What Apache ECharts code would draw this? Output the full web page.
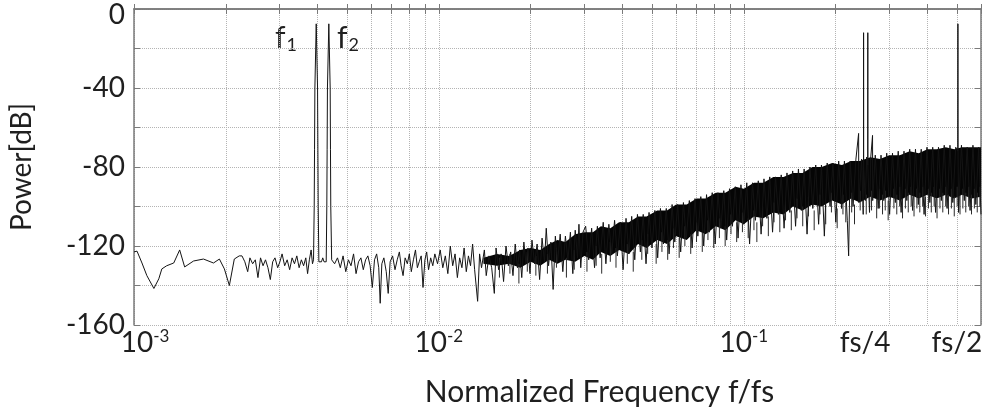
<!DOCTYPE html>
<html>
<head>
<meta charset="utf-8">
<script src="https://cdn.jsdelivr.net/npm/echarts@6/dist/echarts.min.js"></script>
<style>
html, body { margin: 0; padding: 0; background: #fff; }
#chart { width: 987px; height: 412px; }
</style>
</head>
<body>
<div id="chart"></div>
<script>
// spectrum: [normalized frequency, power dB]
const traceLow = [
  [0.001, -123], [0.001023, -122.6], [0.001062, -128.6], [0.001102, -135], [0.001162, -141.5],
  [0.001206, -136.6], [0.001234, -131.6], [0.00128, -130], [0.00135, -128.6], [0.001412, -122],
  [0.001466, -130.6], [0.001568, -127.6], [0.00169, -126.6], [0.001823, -128.6], [0.001906, -126.6],
  [0.001979, -131.6], [0.002055, -140], [0.002133, -126.6], [0.002214, -125],
  [0.00226, -125], [0.00231, -128], [0.00236, -133], [0.0024, -126], [0.00245, -129],
  [0.0025, -127], [0.00255, -136], [0.0026, -126], [0.00265, -130], [0.0027, -127],
  [0.00275, -131], [0.0028, -137], [0.00285, -128], [0.0029, -126], [0.00296, -131],
  [0.00301, -128], [0.00306, -124], [0.00312, -130], [0.00318, -127], [0.00324, -132],
  [0.0033, -126], [0.00336, -129], [0.00342, -125], [0.00348, -131], [0.00354, -127],
  [0.0036, -130], [0.00366, -126], [0.00371, -134], [0.00376, -127], [0.00381, -122],
  [0.00385, -129]
];

// the two test tones f1, f2
const traceTones = [
  [0.00388, -127], [0.0039, -100], [0.00391, -71], [0.00392, -40], [0.00396, -7.5],
  [0.004, -40], [0.00401, -71], [0.00402, -100], [0.00404, -128],
  [0.00408, -127], [0.00412, -128], [0.00416, -126], [0.0042, -128], [0.00424, -127],
  [0.00427, -128], [0.00429, -100], [0.0043, -71], [0.00431, -40], [0.004355, -7.5],
  [0.0044, -40], [0.00441, -71], [0.00442, -100], [0.00445, -127]
];

const traceMid = [
  [0.00455, -129], [0.00465, -126], [0.00475, -131], [0.00485, -125], [0.00495, -133],
  [0.00505, -127], [0.00515, -130], [0.00525, -124], [0.00535, -134], [0.00545, -128],
  [0.00555, -126], [0.00565, -132], [0.00575, -127], [0.00585, -125], [0.00595, -130],
  [0.00605, -141], [0.00615, -127], [0.00625, -124], [0.00635, -131], [0.00642, -149],
  [0.0065, -129], [0.0066, -126], [0.00672, -133], [0.00682, -144], [0.00692, -128],
  [0.00705, -125], [0.00718, -132], [0.0073, -127], [0.00742, -123], [0.00752, -130],
  [0.00763, -135], [0.00775, -126], [0.00788, -129], [0.008, -124], [0.00812, -133],
  [0.00825, -127], [0.00838, -122], [0.0085, -131], [0.00862, -128], [0.00875, -125],
  [0.00887, -141], [0.009, -127], [0.00912, -123], [0.00925, -132], [0.0094, -126],
  [0.00955, -130], [0.0097, -124],
  [0.0099, -129], [0.0101, -122], [0.0103, -131], [0.0105, -125], [0.0107, -134],
  [0.0109, -120], [0.0111, -130], [0.0113, -124], [0.0115, -136], [0.0117, -126],
  [0.0119, -131], [0.0121, -121], [0.0123, -133], [0.0125, -125], [0.0127, -130],
  [0.0129, -119], [0.0131, -132], [0.0134, -148], [0.0136, -124], [0.0138, -131],
  [0.0141, -122], [0.0143, -135], [0.0146, -125], [0.0149, -131], [0.0152, -144],
  [0.0154, -121], [0.0157, -132], [0.016, -124], [0.0163, -138], [0.0166, -120],
  [0.0169, -130], [0.0172, -123], [0.0175, -135], [0.0178, -119], [0.0181, -131],
  [0.0184, -122], [0.0187, -136], [0.019, -118], [0.0193, -129], [0.0196, -121],
  [0.0199, -134], [0.0202, -117], [0.0206, -129], [0.021, -119], [0.0214, -137],
  [0.0218, -116], [0.0222, -128], [0.0225, -111], [0.0229, -130], [0.0233, -118],
  [0.0237, -142], [0.0241, -115], [0.0245, -128], [0.025, -114], [0.0255, -133],
  [0.026, -115], [0.0265, -127], [0.027, -113], [0.0275, -134], [0.028, -112],
  [0.0285, -126], [0.0288, -109], [0.0292, -131], [0.0297, -113]
];

// dense part, with the fs/4 tones and the fs/2 tone
const traceHigh = [
  [0.0303, -110], [0.031, -127], [0.0317, -111], [0.0324, -131], [0.0331, -110],
  [0.0338, -126], [0.0346, -108], [0.0353, -129], [0.0361, -109], [0.0369, -124],
  [0.0377, -107], [0.0385, -125], [0.0394, -108], [0.0402, -132], [0.0411, -106],
  [0.042, -124], [0.0429, -105], [0.0439, -127], [0.0448, -104], [0.0458, -123],
  [0.0468, -104], [0.0478, -129], [0.0489, -103], [0.05, -121], [0.0511, -102],
  [0.0522, -126], [0.0533, -101], [0.0545, -119], [0.0557, -101], [0.0569, -124],
  [0.0582, -99], [0.0594, -118], [0.0607, -99], [0.0621, -123], [0.0634, -98],
  [0.0648, -116], [0.0663, -97], [0.0677, -121], [0.0692, -96], [0.0707, -115],
  [0.0723, -95], [0.0739, -120], [0.0755, -94], [0.0771, -113], [0.0788, -93],
  [0.0806, -119], [0.0823, -93], [0.0841, -111], [0.086, -92], [0.0879, -117],
  [0.0898, -91], [0.0918, -110], [0.0938, -90], [0.0958, -116], [0.0979, -89],
  [0.1001, -109], [0.1023, -88], [0.1045, -119], [0.1068, -88], [0.1092, -107],
  [0.1116, -87], [0.114, -114], [0.1165, -86], [0.1191, -106], [0.1217, -85],
  [0.1243, -113], [0.1271, -85], [0.1299, -104], [0.1327, -84], [0.1356, -111],
  [0.1386, -83], [0.1416, -103], [0.1447, -82], [0.1479, -110], [0.1511, -81],
  [0.1545, -102], [0.1578, -81], [0.1613, -114], [0.1648, -80], [0.1685, -101],
  [0.1722, -79], [0.176, -109], [0.1798, -79], [0.1838, -115], [0.1878, -78],
  [0.1919, -100], [0.1961, -78], [0.2004, -108], [0.2048, -77], [0.2093, -101],
  [0.2139, -77], [0.2186, -107], [0.2208, -125], [0.2234, -77], [0.2283, -100],
  [0.2333, -76], [0.2381, -63], [0.2384, -98], [0.2436, -76], [0.2465, -104],
  [0.2471, -78], [0.2472, -12], [0.2473, -80], [0.2505, -97], [0.253, -75],
  [0.2551, -79], [0.2552, -12], [0.2553, -80], [0.2585, -103], [0.261, -75],
  [0.2645, -64], [0.2648, -97], [0.27, -74], [0.276, -101], [0.282, -74],
  [0.288, -97], [0.2944, -73], [0.3009, -104], [0.3075, -73], [0.3142, -98],
  [0.3211, -72], [0.3282, -103], [0.3354, -72], [0.3427, -97], [0.3502, -71],
  [0.3579, -102], [0.3658, -71], [0.3738, -99], [0.382, -71], [0.3904, -104],
  [0.399, -70], [0.4077, -98], [0.4167, -70], [0.4258, -103], [0.4352, -70],
  [0.4447, -97], [0.4545, -69], [0.4644, -101], [0.4746, -69], [0.485, -98],
  [0.4957, -70], [0.5035, -72], [0.504, -7.5], [0.5045, -72], [0.5065, -103],
  [0.5176, -69], [0.529, -97], [0.5406, -70], [0.5525, -102], [0.5646, -69],
  [0.577, -99], [0.5896, -70], [0.6, -104]
];

// solid black core of the noise floor (upper / lower edge)
const bandFreq = [
  0.014, 0.0155, 0.017, 0.0185, 0.02, 0.0215, 0.023, 0.0245, 0.026, 0.028,
  0.03, 0.032, 0.034, 0.0365, 0.039, 0.042, 0.045, 0.048, 0.052, 0.056,
  0.06, 0.065, 0.07, 0.075, 0.081, 0.087, 0.094, 0.1, 0.108, 0.116,
  0.125, 0.135, 0.145, 0.156, 0.168, 0.18, 0.195, 0.21, 0.225, 0.24,
  0.26, 0.28, 0.3, 0.325, 0.35, 0.375, 0.4, 0.43, 0.46, 0.49,
  0.52, 0.56, 0.6
];
const bandTop = [
  -126, -124, -125, -122, -121, -122, -119, -117, -118, -114,
  -113, -113, -110, -111, -108, -108, -105, -105, -102, -102,
  -99, -99, -96, -96, -93, -93, -90, -91, -88, -88,
  -85, -85, -83, -83, -80, -80, -78, -79, -77, -77,
  -75, -76, -74, -74, -72, -73, -71, -71, -70, -71,
  -70, -70, -70
];
const bandBot = [
  -129, -130, -129, -131, -128, -130, -127, -129, -127, -128,
  -125, -127, -123, -125, -122, -124, -119, -121, -117, -119,
  -115, -117, -112, -114, -110, -112, -107, -109, -105, -106,
  -103, -104, -100, -102, -99, -100, -97, -99, -96, -98,
  -95, -97, -95, -97, -94, -96, -94, -96, -94, -96,
  -94, -96, -95
];

// downward hairs under the band: [frequency, lowest dB]
const spikes = [
  [0.0158, -136], [0.0171, -134], [0.0183, -139], [0.0195, -133], [0.0208, -135],
  [0.0227, -134], [0.0243, -131], [0.0262, -136], [0.0278, -132], [0.0306, -133],
  [0.0328, -130], [0.0342, -134], [0.0365, -128], [0.0381, -131], [0.0415, -129],
  [0.0434, -133], [0.0463, -127], [0.0484, -124], [0.0516, -129], [0.0539, -123],
  [0.0563, -127], [0.0588, -121], [0.0614, -126], [0.0641, -120], [0.067, -124],
  [0.07, -118], [0.0731, -123], [0.0763, -117], [0.0797, -121], [0.0832, -116],
  [0.0869, -120], [0.0908, -114], [0.0948, -118], [0.099, -113], [0.1034, -116],
  [0.108, -112], [0.1104, -118], [0.1153, -110], [0.1204, -115], [0.1257, -108],
  [0.1313, -113], [0.1371, -107], [0.1432, -112], [0.1495, -106], [0.1561, -110],
  [0.163, -105], [0.1702, -112], [0.1778, -104], [0.1857, -109], [0.1939, -103],
  [0.2025, -111], [0.2115, -104], [0.2161, -108], [0.2259, -103], [0.2308, -109],
  [0.2409, -102], [0.2522, -104], [0.2625, -102], [0.2729, -106], [0.2789, -101],
  [0.2852, -104], [0.2911, -102], [0.2976, -107], [0.3108, -101], [0.3176, -104],
  [0.3246, -100], [0.3317, -106], [0.339, -101], [0.3464, -103], [0.354, -100],
  [0.3618, -105], [0.3698, -101], [0.3779, -103], [0.3862, -100], [0.3947, -105],
  [0.4034, -101], [0.4122, -103], [0.4212, -100], [0.4305, -106], [0.44, -101],
  [0.4496, -103], [0.4595, -100], [0.4695, -104], [0.4798, -101], [0.4903, -105],
  [0.5012, -100], [0.5121, -104], [0.5232, -101], [0.5348, -103], [0.5466, -100],
  [0.5585, -104], [0.5707, -101], [0.5832, -103], [0.5948, -100]
];
const spikeLen = 10; // dB, each hair runs up into the band

// axis ticks / labels
const xTickValues = [
  0.001, 0.002, 0.003, 0.004, 0.005, 0.006, 0.007, 0.008, 0.009,
  0.01, 0.02, 0.03, 0.04, 0.05, 0.06, 0.07, 0.08, 0.09,
  0.1, 0.2, 0.3, 0.4, 0.5, 0.6
];
const xLabelValues = [0.001, 0.01, 0.1, 0.25, 0.5];
const xLabelText = ['{b0|10}{sup|-3}', '{b|10}{sup|-2}', '{b|10}{sup|-1}', '{b|fs/4}', '{b|fs/2}'];

const textColor = '#1f1f1f';
const boxColor = '#7a7a7a';

const chart = echarts.init(document.getElementById('chart'));

const trace = [].concat(traceLow, traceTones, traceMid, traceHigh);
const band = bandFreq.map((f, i) => [f, bandTop[i], bandBot[i]]);

function xLabel(v) {
  for (let i = 0; i < xLabelValues.length; i++) {
    if (Math.abs(Math.log10(v) - Math.log10(xLabelValues[i])) < 1e-6) return xLabelText[i];
  }
  return '';
}

// draw the band as one polygon: top edge left to right, bottom edge back
function renderBand(params, api) {
  if (params.dataIndex !== 0) return;
  const pts = [];
  for (let i = 0; i < band.length; i++) pts.push(api.coord([band[i][0], band[i][1]]));
  for (let i = band.length - 1; i >= 0; i--) pts.push(api.coord([band[i][0], band[i][2]]));
  return { type: 'polygon', shape: { points: pts }, style: { fill: '#050505' } };
}

function renderSpike(params, api) {
  const f = api.value(0), tip = api.value(1);
  const a = api.coord([f, tip]);
  const b = api.coord([f, tip + spikeLen]);
  return { type: 'line', shape: { x1: a[0], y1: a[1], x2: b[0], y2: b[1] }, style: { stroke: '#2a2a2a', lineWidth: 1 } };
}

const xTick = { show: true, inside: true, length: 5, customValues: xTickValues, lineStyle: { color: boxColor, width: 1 } };
const yTick = { show: true, inside: true, length: 6, lineStyle: { color: boxColor, width: 1 } };
const boxLine = { show: true, lineStyle: { color: boxColor, width: 1.5 } };
const subRich = {
  m: { fontSize: 30, lineHeight: 32, fontFamily: 'Lato', fill: textColor },
  s: { fontSize: 18, lineHeight: 18, verticalAlign: 'bottom', fontFamily: 'Lato', fill: textColor, padding: [0, 0, 0, 1] }
};

chart.setOption({
  animation: false,
  backgroundColor: '#fff',
  textStyle: { fontFamily: 'Lato' },
  grid: { left: 127, right: 6, top: 9, bottom: 82 },
  xAxis: [
    {
      type: 'log', logBase: 10, min: 0.001, max: 0.6, position: 'bottom',
      name: 'Normalized Frequency f/fs', nameLocation: 'middle', nameGap: 52,
      nameTextStyle: { fontSize: 30, color: textColor, fontFamily: 'Lato', padding: [0, 0, 0, 84] },
      axisLine: boxLine,
      axisTick: xTick,
      axisLabel: {
        customValues: xLabelValues, margin: 3, color: textColor,
        formatter: xLabel,
        rich: {
          b: { fontSize: 28, lineHeight: 30, fontFamily: 'Lato', color: textColor },
          b0: { fontSize: 28, lineHeight: 30, fontFamily: 'Lato', color: textColor, padding: [0, 0, 0, 22] },
          sup: { fontSize: 17, lineHeight: 18, verticalAlign: 'top', fontFamily: 'Lato', color: textColor }
        }
      },
      splitLine: { show: true, lineStyle: { color: '#b4b4b4', type: 'dotted', width: 1 } }
    },
    {
      type: 'log', logBase: 10, min: 0.001, max: 0.6, position: 'top',
      axisLine: boxLine, axisTick: xTick,
      axisLabel: { show: false }, splitLine: { show: false }
    }
  ],
  yAxis: [
    {
      type: 'value', min: -160, max: 0, interval: 20, position: 'left',
      name: 'Power[dB]', nameLocation: 'middle', nameGap: 98,
      nameTextStyle: { fontSize: 28, color: textColor, fontFamily: 'Lato' },
      axisLine: boxLine, axisTick: yTick,
      axisLabel: {
        margin: 9, color: textColor, fontSize: 28, fontFamily: 'Lato',
        formatter: v => (v === 0 ? '{top|0}' : (v % 40 === 0 ? String(v) : '')),
        rich: { top: { fontSize: 28, fontFamily: 'Lato', color: textColor, padding: [12, 0, 0, 0] } }
      },
      splitLine: { show: true, lineStyle: { color: '#b4b4b4', type: 'dotted', width: 1 } }
    },
    {
      type: 'value', min: -160, max: 0, interval: 20, position: 'right',
      axisLine: boxLine, axisTick: yTick,
      axisLabel: { show: false }, splitLine: { show: false }
    }
  ],
  graphic: [
    { type: 'text', left: 275, top: 23, style: { text: '{m|f}{s|1}', rich: subRich } },
    { type: 'text', left: 337, top: 23, style: { text: '{m|f}{s|2}', rich: subRich } }
  ],
  series: [
    {
      type: 'custom', data: band, encode: { x: 0, y: [1, 2] },
      renderItem: renderBand, silent: true, z: 1
    },
    {
      type: 'custom', data: spikes, encode: { x: 0, y: 1 },
      renderItem: renderSpike, silent: true, z: 1
    },
    {
      type: 'line', data: trace, symbol: 'none', sampling: null, z: 2,
      lineStyle: { color: '#141414', width: 1 }
    }
  ]
});
</script>
</body>
</html>
